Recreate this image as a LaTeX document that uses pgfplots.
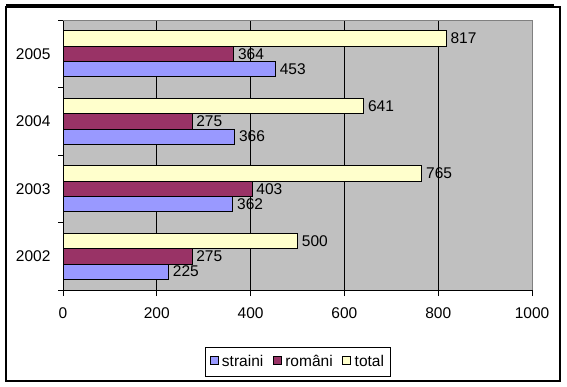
\documentclass[border=0pt]{standalone}
\usepackage{fontspec}
\setmainfont{Liberation Sans}
\usepackage{pgfplots}
\pgfplotsset{compat=1.18}
\definecolor{cs}{RGB}{153,153,255}
\definecolor{cr}{RGB}{153,51,102}
\definecolor{ct}{RGB}{255,255,204}
\definecolor{bg}{RGB}{192,192,192}
\definecolor{edge}{RGB}{128,128,128}
\newcommand{\cf}{\fontsize{15.5}{17}\selectfont}
\begin{document}
\begin{tikzpicture}[x=1pt,y=1pt]
\useasboundingbox (0,0) rectangle (567,-387);
\draw[line width=1.1pt] (6,-7) rectangle (560,-381);
\draw[line width=1.1pt] (6,-5) -- (554,-5);
\begin{axis}[
  at={(63pt,-290pt)}, anchor=south west,
  scale only axis, width=469pt, height=270pt,
  xmin=0, xmax=1000, ymin=-0.5, ymax=3.5,
  xbar=0pt, bar width=15.3pt,
  axis x line=bottom, axis y line=left, axis line style={-, black, line width=0.8pt},
  axis background/.style={fill=bg},
  tick align=outside,
  xtick={0,200,400,600,800,1000},
  ytick={0,1,2,3}, yticklabels={2002,2003,2004,2005},
  minor ytick={-0.5,0.5,1.5,2.5,3.5},
  major tick length=6pt, minor tick length=5pt,
  major x tick style={black, line width=0.8pt},
  major y tick style={draw=none},
  minor y tick style={black, line width=0.8pt},
  xmajorgrids, major grid style={black, line width=0.8pt},
  /pgf/number format/assume math mode=true,
  /pgf/number format/1000 sep={},
  tick label style={font=\cf, text=black},
  xticklabel style={yshift=-8pt},
  yticklabel style={xshift=-3pt},
  nodes near coords,
  every node near coord/.append style={font=\cf, text=black, anchor=west, inner sep=0pt, xshift=4pt},
  legend style={at={(0.5,-0.2667)}, anchor=center, legend columns=3, draw=black, line width=0.8pt,
    font=\cf, inner xsep=4pt, inner ysep=6pt,
    /tikz/every even column/.append style={column sep=7pt}},
  legend image code/.code={\draw[#1, draw=black, line width=0.6pt] (1pt,-2pt) rectangle (9pt,6pt); \path[draw=none, fill=none] (0pt,0pt) rectangle (11pt,0.1pt);},
  after end axis/.code={\draw[edge, line width=0.8pt] (rel axis cs:0,1) -- (rel axis cs:1,1) -- (rel axis cs:1,0);},
]
\addplot[fill=cs, draw=black, line width=0.8pt] coordinates {(225,0) (362,1) (366,2) (453,3)};
\addplot[fill=cr, draw=black, line width=0.8pt] coordinates {(275,0) (403,1) (275,2) (364,3)};
\addplot[fill=ct, draw=black, line width=0.8pt] coordinates {(500,0) (765,1) (641,2) (817,3)};
\legend{straini, români, total}
\end{axis}
\end{tikzpicture}
\end{document}
